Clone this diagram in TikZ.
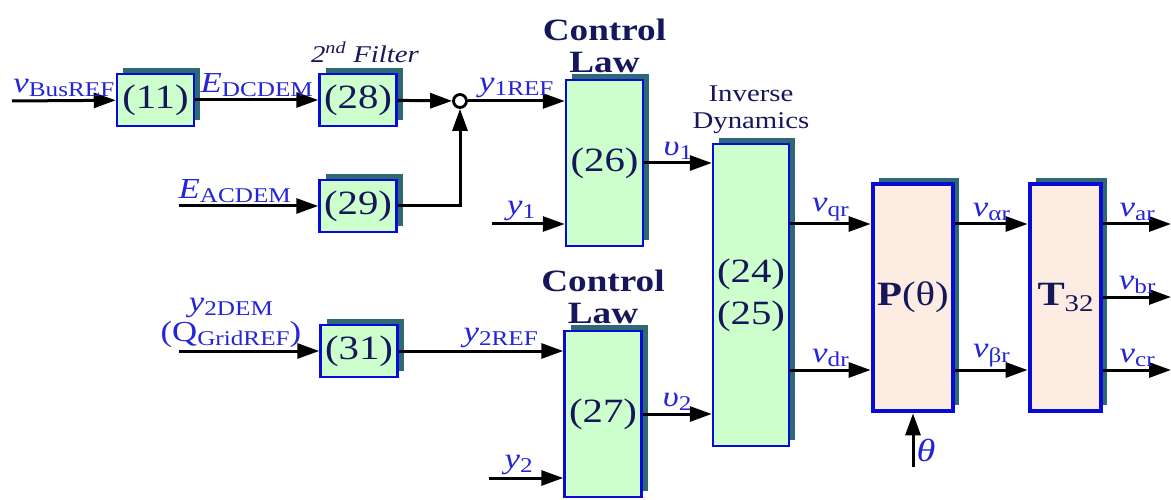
\documentclass[tikz,border=0pt]{standalone}
\usepackage{fontspec}
\setmainfont[FakeStretch=1.2]{Liberation Serif}
\usetikzlibrary{arrows.meta, positioning, shadows}
\definecolor{boxBlue}{HTML}{0A0AD8}
\definecolor{boxGreen}{HTML}{CCFFCC}
\definecolor{boxPeach}{HTML}{FCECE2}
\definecolor{shadowTeal}{HTML}{2E6A74}
\definecolor{navyText}{HTML}{16165A}
\definecolor{sigBlue}{HTML}{2424D8}
\newcommand{\sigl}[2]{\textit{#1}\raisebox{-0.14em}{\fontsize{21}{21}\selectfont #2}}
\newcommand{\sigr}[2]{#1\raisebox{-0.14em}{\fontsize{21}{21}\selectfont #2}}

\begin{document}
\begin{tikzpicture}[x=1pt, y=-1pt,
  eqbox/.style={draw=boxBlue, line width=2.5pt, fill=boxGreen, minimum width=77pt, minimum height=52pt,
                inner sep=0pt, align=center, text=navyText, font=\fontsize{34}{42}\selectfont,
                drop shadow={fill=shadowTeal, opacity=1, shadow xshift=6pt, shadow yshift=6pt}},
  mapbox/.style={eqbox, line width=4.8pt, fill=boxPeach, minimum width=80pt, minimum height=227pt},
  title/.style={font=\fontsize{31}{32}\selectfont\bfseries, text=navyText, align=center, inner sep=0pt},
  note/.style={font=\fontsize{24}{27}\selectfont, text=navyText, align=center, inner sep=0pt},
  sig/.style={font=\fontsize{29}{30}\selectfont, text=sigBlue, inner sep=2pt, align=center},
  arrow/.style={-{Triangle[length=22pt, width=15pt]}, line width=3pt},
  node distance=4pt
]
\useasboundingbox (0,0) rectangle (1171,500);

\node[eqbox] (b11) at (155.5,100) {(11)};
\node[eqbox] (b28) at (358,100) {(28)};
\node[eqbox] (b29) at (358,206) {(29)};
\node[eqbox] (b31) at (359,351) {(31)};
\node[circle, draw, line width=2.8pt, fill=white, minimum size=13pt, inner sep=0pt] (sum) at (460,101) {};
\node[eqbox, minimum height=166pt] (b26) at (604.5,163) {(26)};
\node[eqbox, minimum height=166pt] (b27) at (603,414) {(27)};
\node[eqbox, minimum height=302pt, minimum width=76pt] (bID) at (751,295) {(24)\\(25)};
\node[mapbox] (bP) at (913,297.5) {\textbf{P}(θ)};
\node[mapbox, minimum width=71pt] (bT) at (1065.5,297.5) {\textbf{T}\raisebox{-0.18em}{\fontsize{24}{24}\selectfont 32}};

\node[title, above=6pt of b26] (cl1) {Control\\Law};
\node[title, above=6pt of b27] (cl2) {Control\\Law};
\node[note, above=9pt of bID] (invdyn) {Inverse\\Dynamics};
\node[note, above=10pt of b28, xshift=7pt] (filt) {\textit{2\textsuperscript{nd} Filter}};

\coordinate (busIn) at (12,101);
\coordinate (acIn) at (179,206);
\coordinate (qIn) at (179,351);
\coordinate (y1In) at (492,224);
\coordinate (y2In) at (489,478);
\coordinate (thIn) at (913,467);
\coordinate (rowA) at (1171,224);
\coordinate (rowB) at (1171,297);
\coordinate (rowC) at (1171,370);

\draw[arrow] (busIn) -- node[sig, above] {\sigl{v}{BusREF}} (b11);
\draw[arrow] (b11) -- node[sig, above] {\sigl{E}{DCDEM}} (b28);
\draw[arrow] (b28) -- (sum);
\draw[arrow] (sum) -- node[sig, above] {\sigl{y}{1REF}} (sum -| b26.west);
\draw[arrow] (acIn) -- node[sig, above, pos=0.4] {\sigl{E}{ACDEM}} (b29);
\draw[arrow] (b29) -| (sum);
\draw[arrow] (y1In) -- node[sig, above, pos=0.4] {\sigl{y}{1}} (y1In -| b26.west);
\draw[arrow] (b26) -- node[sig, above] {\sigl{υ}{1}} (b26 -| bID.west);
\draw[arrow] (qIn) -- node[sig, above, pos=0.37] {\sigl{y}{2DEM}\\(\sigr{Q}{GridREF})} (b31);
\draw[arrow] (b31) -- node[sig, above, pos=0.62] {\sigl{y}{2REF}} (b31 -| b27.west);
\draw[arrow] (y2In) -- node[sig, above, pos=0.4] {\sigl{y}{2}} (y2In -| b27.west);
\draw[arrow] (b27) -- node[sig, above] {\sigl{υ}{2}} (b27 -| bID.west);
\draw[arrow] (bID.east |- rowA) -- node[sig, above] {\sigl{v}{qr}} (bP.west |- rowA);
\draw[arrow] (bID.east |- rowC) -- node[sig, above] {\sigl{v}{dr}} (bP.west |- rowC);
\draw[arrow] (bP.east |- rowA) -- node[sig, above] {\sigl{v}{αr}} (bT.west |- rowA);
\draw[arrow] (bP.east |- rowC) -- node[sig, above] {\sigl{v}{βr}} (bT.west |- rowC);
\draw[arrow] (bT.east |- rowA) -- node[sig, above] {\sigl{v}{ar}} (rowA);
\draw[arrow] (bT.east |- rowB) -- node[sig, above] {\sigl{v}{br}} (rowB);
\draw[arrow] (bT.east |- rowC) -- node[sig, above] {\sigl{v}{cr}} (rowC);
\draw[arrow] (thIn) -- node[sig, right, pos=0.3, font=\fontsize{32}{32}\selectfont] {\textit{θ}} (bP);
\end{tikzpicture}
\end{document}
